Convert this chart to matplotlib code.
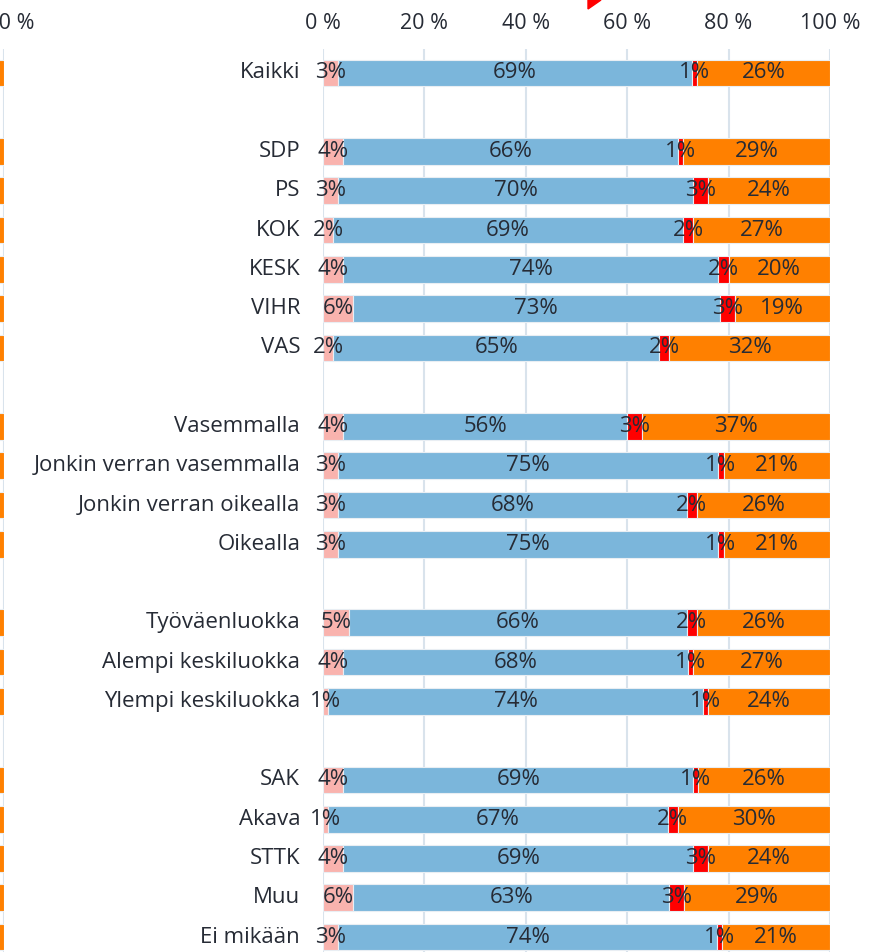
import matplotlib
matplotlib.use("Agg")
import matplotlib.pyplot as plt
import numpy as np
from matplotlib.patches import Polygon

plt.rcParams['font.family'] = ['Open Sans', 'DejaVu Sans']

categories = ["Kaikki", None, "SDP", "PS", "KOK", "KESK", "VIHR", "VAS", None,
              "Vasemmalla", "Jonkin verran vasemmalla", "Jonkin verran oikealla", "Oikealla", None,
              "Työväenluokka", "Alempi keskiluokka", "Ylempi keskiluokka", None,
              "SAK", "Akava", "STTK", "Muu", "Ei mikään"]

s1 = [3, None, 4, 3, 2, 4, 6, 2, None, 4, 3, 3, 3, None, 5, 4, 1, None, 4, 1, 4, 6, 3]
s2 = [69, None, 66, 70, 69, 74, 73, 65, None, 56, 75, 68, 75, None, 66, 68, 74, None, 69, 67, 69, 63, 74]
s3 = [1, None, 1, 3, 2, 2, 3, 2, None, 3, 1, 2, 1, None, 2, 1, 1, None, 1, 2, 3, 3, 1]
s4 = [26, None, 29, 24, 27, 20, 19, 32, None, 37, 21, 26, 21, None, 26, 27, 24, None, 26, 30, 24, 29, 21]

colors = ["#f9b3ae", "#7bb6db", "#ff0000", "#ff8000"]
ticks = [0, 20, 40, 60, 80, 100]
tick_labels = ["0 %", "20 %", "40 %", "60 %", "80 %", "100 %"]

# tail of neighbouring (cropped) panel's last segment
left_tail = [30, None, 30, 30, 30, 30, 30, 30, None, 30, 30, 30, 30, None, 30, 30, 30, None, 30, 30, 30, 30, 30]

W, H = 884, 952
fig = plt.figure(figsize=(W / 100, H / 100), dpi=100)
text_color = "#262b35"
grid_color = "#d9e3ec"
fs = 16
tfs = 15.5
tpad = 11

n = len(categories)
ylim = (22.38, -0.6)
top_px = 49.4
ax = fig.add_axes([323 / W, 0, (830 - 323) / W, (H - top_px) / H])
ax.set_xlim(0, 100)
ax.set_ylim(*ylim)

ys = np.arange(n)
for i in range(n):
    if categories[i] is None:
        continue
    vals = np.array([s1[i], s2[i], s3[i], s4[i]], dtype=float)
    tot = vals.sum()
    norm = vals / tot * 100
    left = 0
    for k in range(4):
        ax.barh(ys[i], norm[k], left=left, height=0.68, color=colors[k],
                edgecolor="#e9eef3", linewidth=0.8, zorder=3)
        ax.text(left + norm[k] / 2, ys[i], f"{int(vals[k])}%", ha="center", va="center",
                fontsize=fs, color=text_color, zorder=4)
        left += norm[k]
    ax.text(-4.5, ys[i], categories[i], ha="right", va="center", fontsize=fs,
            color=text_color, clip_on=False)

ax.set_xticks(ticks)
ax.set_xticklabels(tick_labels)
ax.xaxis.tick_top()
ax.tick_params(axis="x", length=0, pad=tpad, labelsize=tfs, labelcolor=text_color)
ax.set_yticks([])
ax.grid(axis="x", color=grid_color, linewidth=1.5, zorder=0)
ax.set_axisbelow(True)
for sp in ax.spines.values():
    sp.set_visible(False)

# cropped neighbour panel on the left edge
ax2 = fig.add_axes([(4 - 507) / W, 0, 507 / W, (H - top_px) / H])
ax2.set_xlim(0, 100)
ax2.set_ylim(*ylim)
for i in range(n):
    if left_tail[i] is None:
        continue
    ax2.barh(ys[i], left_tail[i], left=100 - left_tail[i], height=0.68, color=colors[3],
             edgecolor="#e9eef3", linewidth=0.8, zorder=3)
ax2.set_xticks(ticks)
ax2.set_xticklabels(tick_labels)
ax2.xaxis.tick_top()
ax2.tick_params(axis="x", length=0, pad=tpad, labelsize=tfs, labelcolor=text_color)
ax2.set_yticks([])
ax2.grid(axis="x", color=grid_color, linewidth=1.5, zorder=0)
ax2.set_axisbelow(True)
for sp in ax2.spines.values():
    sp.set_visible(False)

# small red marker fragment at top edge
tri = Polygon([(588 / W, 1.0), (601 / W, 1.0), (588 / W, 1 - 9 / H)], closed=True,
              transform=fig.transFigure, color="#ff0000")
fig.patches.append(tri)

fig.savefig("out.png", dpi=100)
